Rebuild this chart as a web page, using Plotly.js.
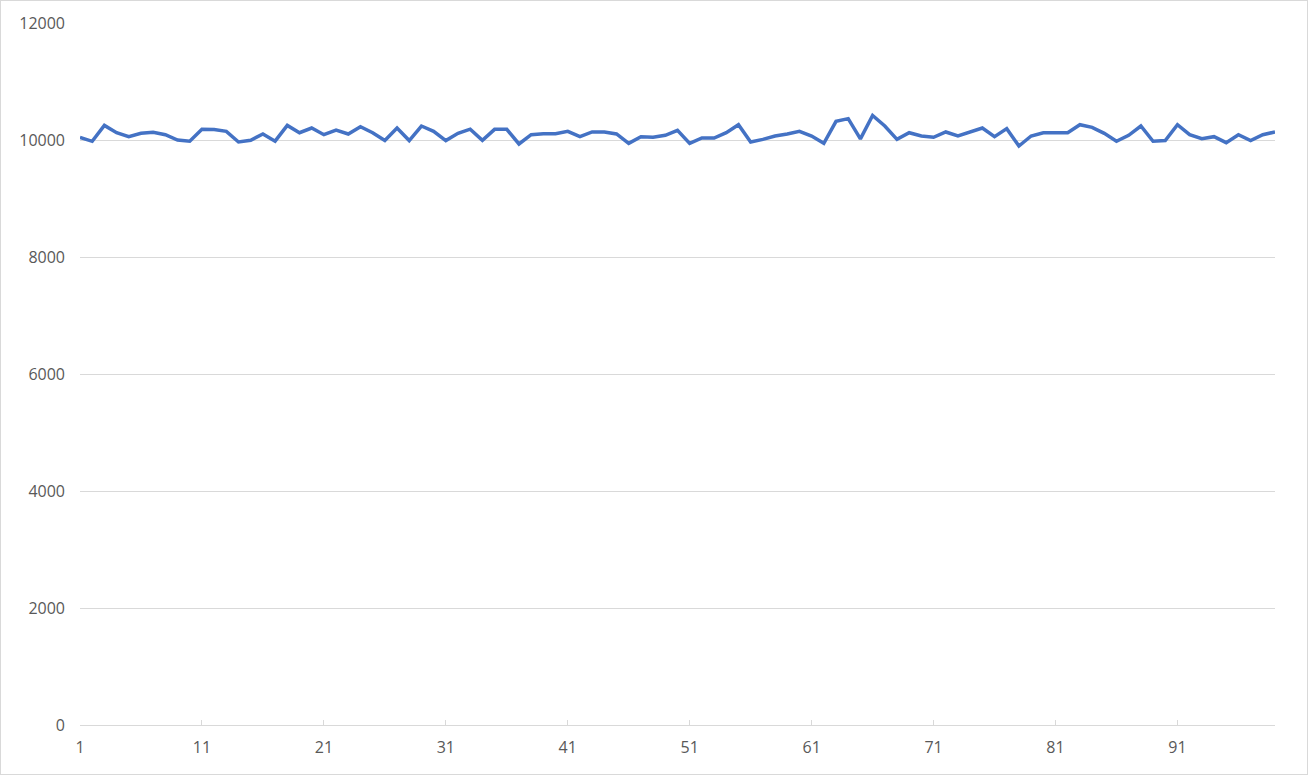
<!DOCTYPE html>
<html>
<head>
<meta charset="utf-8">
<script src="https://cdn.plot.ly/plotly-3.0.1.min.js"></script>
<style>
  html, body { margin: 0; padding: 0; background: #fff; }
  #wrap { position: relative; width: 1308px; height: 775px; }
  #chart { width: 1308px; height: 775px; }
  #frame { position: absolute; left: 0; top: 0; width: 1308px; height: 775px; box-sizing: border-box; border: 1px solid #d9d9d9; pointer-events: none; }
</style>
</head>
<body>
<div id="wrap"><div id="chart"></div><div id="frame"></div></div>
<script>
const categories = Array.from({length: 99}, (_, i) => i + 1);
const values = [
  10046, 9978, 10250, 10125, 10057, 10114, 10131, 10091, 10000, 9978,
  10182, 10178, 10148, 9966, 9995, 10103, 9980, 10250, 10125, 10205,
  10091, 10171, 10103, 10228, 10125, 9990, 10205, 9990, 10239, 10148,
  9990, 10114, 10186, 9995, 10182, 10182, 9932, 10091, 10108, 10108,
  10148, 10057, 10137, 10137, 10103, 9943, 10057, 10046, 10080, 10165,
  9943, 10034, 10034, 10125, 10262, 9966, 10011, 10068, 10103, 10148,
  10068, 9943, 10319, 10365, 10020, 10420, 10239, 10011, 10125, 10068,
  10046, 10137, 10068, 10137, 10205, 10057, 10194, 9897, 10068, 10125,
  10125, 10125, 10262, 10216, 10114, 9978, 10080, 10239, 9978, 9990,
  10262, 10091, 10023, 10057, 9955, 10091, 9990, 10091, 10137
];
const xTickVals = [1, 11, 21, 31, 41, 51, 61, 71, 81, 91];
const xTickText = ["1", "11", "21", "31", "41", "51", "61", "71", "81", "91"];
const yTickVals = [0, 2000, 4000, 6000, 8000, 10000, 12000];
const yTickText = ["0", "2000", "4000", "6000", "8000", "10000", "12000"];

const font = { family: "Open Sans, Liberation Sans, sans-serif", size: 16, color: "#595959" };

Plotly.newPlot("chart", [{
  x: categories,
  y: values,
  type: "scatter",
  mode: "lines",
  line: { color: "#4472C4", width: 3.5 },
  hoverinfo: "x+y"
}], {
  width: 1308, height: 775,
  margin: { l: 80, r: 33, t: 23, b: 50, pad: 0 },
  paper_bgcolor: "#ffffff",
  plot_bgcolor: "#ffffff",
  showlegend: false,
  font: font,
  xaxis: {
    type: "linear",
    range: [1, 99],
    tickvals: xTickVals,
    ticktext: xTickText,
    showgrid: false,
    zeroline: false,
    showline: true,
    linecolor: "#d9d9d9",
    linewidth: 1,
    ticks: "inside",
    ticklen: 5,
    tickcolor: "#d9d9d9",
    tickfont: font,
    ticklabelstandoff: 8
  },
  yaxis: {
    range: [0, 12000],
    tickvals: yTickVals,
    ticktext: yTickText,
    showgrid: true,
    gridcolor: "#d9d9d9",
    gridwidth: 1,
    zeroline: false,
    showline: false,
    ticks: "",
    tickfont: font,
    ticklabelstandoff: 14
  }
}, { displayModeBar: false, staticPlot: true });
</script>
</body>
</html>
